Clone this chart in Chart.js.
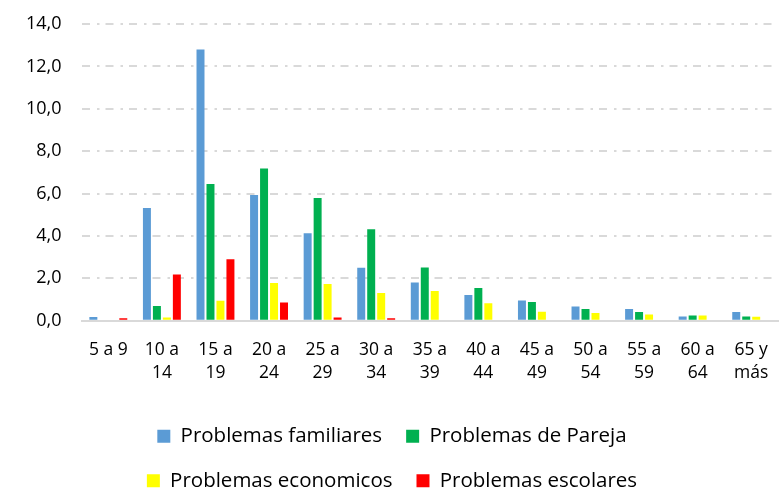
<!DOCTYPE html>
<html>
<head>
<meta charset="utf-8">
<script src="https://cdn.jsdelivr.net/npm/chart.js@4"></script>
<style>
    html, body { margin: 0; padding: 0; background: #fff; }
    #wrap { width: 782px; height: 488px; }
</style>
</head>
<body>
<div id="wrap"><canvas id="chart" width="782" height="488"></canvas></div>
<script>
// ========================================
// Data
// ========================================
const ageGroups = [
    '5 a 9', ['10 a', '14'], ['15 a', '19'], ['20 a', '24'], ['25 a', '29'],
    ['30 a', '34'], ['35 a', '39'], ['40 a', '44'], ['45 a', '49'],
    ['50 a', '54'], ['55 a', '59'], ['60 a', '64'], ['65 y', 'más']
];
const familiares = [0.18, 5.32, 12.8, 5.93, 4.13, 2.5, 1.81, 1.22, 0.95, 0.67, 0.55, 0.2, 0.41];
const pareja     = [0, 0.7, 6.45, 7.18, 5.79, 4.32, 2.51, 1.54, 0.89, 0.55, 0.41, 0.25, 0.2];
const economicos = [0, 0.15, 0.94, 1.78, 1.73, 1.31, 1.4, 0.83, 0.42, 0.36, 0.3, 0.25, 0.19];
const escolares  = [0.12, 2.18, 2.9, 0.86, 0.15, 0.12, 0, 0, 0, 0, 0, 0, 0];
const yTicks = { min: 0, max: 14, step: 2 };

const FONT = '"Open Sans", Lato, sans-serif';

// ========================================
// Chart
// ========================================
const ctx = document.getElementById('chart');
ctx.chart = new Chart(ctx, {
    type: 'bar',
    data: {
        labels: ageGroups,
        datasets: [
            { label: 'Problemas familiares', data: familiares, backgroundColor: '#5B9BD5' },
            { label: 'Problemas de Pareja',  data: pareja,     backgroundColor: '#00B050' },
            { label: 'Problemas economicos', data: economicos, backgroundColor: '#FFFF00' },
            { label: 'Problemas escolares',  data: escolares,  backgroundColor: '#FF0000' }
        ]
    },
    options: {
        responsive: false,
        animation: false,
        categoryPercentage: 0.745,
        barPercentage: 0.8,
        layout: { padding: { top: 0, right: 4, left: 6, bottom: -13 } },
        plugins: {
            legend: {
                position: 'bottom',
                labels: {
                    font: { family: FONT, size: 20.5 },
                    color: '#000',
                    boxWidth: 13,
                    boxHeight: 13,
                    padding: 24
                }
            },
            tooltip: { enabled: false }
        },
        scales: {
            x: {
                grid: { display: false },
                border: { display: true, color: '#d9d9d9', width: 2 },
                ticks: {
                    color: '#000',
                    font: { family: FONT, size: 17.5, lineHeight: 1.35 },
                    maxRotation: 0,
                    autoSkip: false,
                    padding: 9
                },
                afterFit: s => { s.height += 8; }
            },
            y: {
                min: yTicks.min,
                max: yTicks.max,
                grid: { color: '#d9d9d9', lineWidth: 2, drawTicks: false },
                border: { display: false, dash: [8, 7, 2.5, 6] },
                ticks: {
                    stepSize: yTicks.step,
                    color: '#000',
                    font: { family: FONT, size: 18 },
                    padding: 20,
                    callback: v => v.toFixed(1).replace('.', ',')
                },
                afterFit: s => { s.paddingTop = 24; }
            }
        }
    }
});
</script>
</body>
</html>
